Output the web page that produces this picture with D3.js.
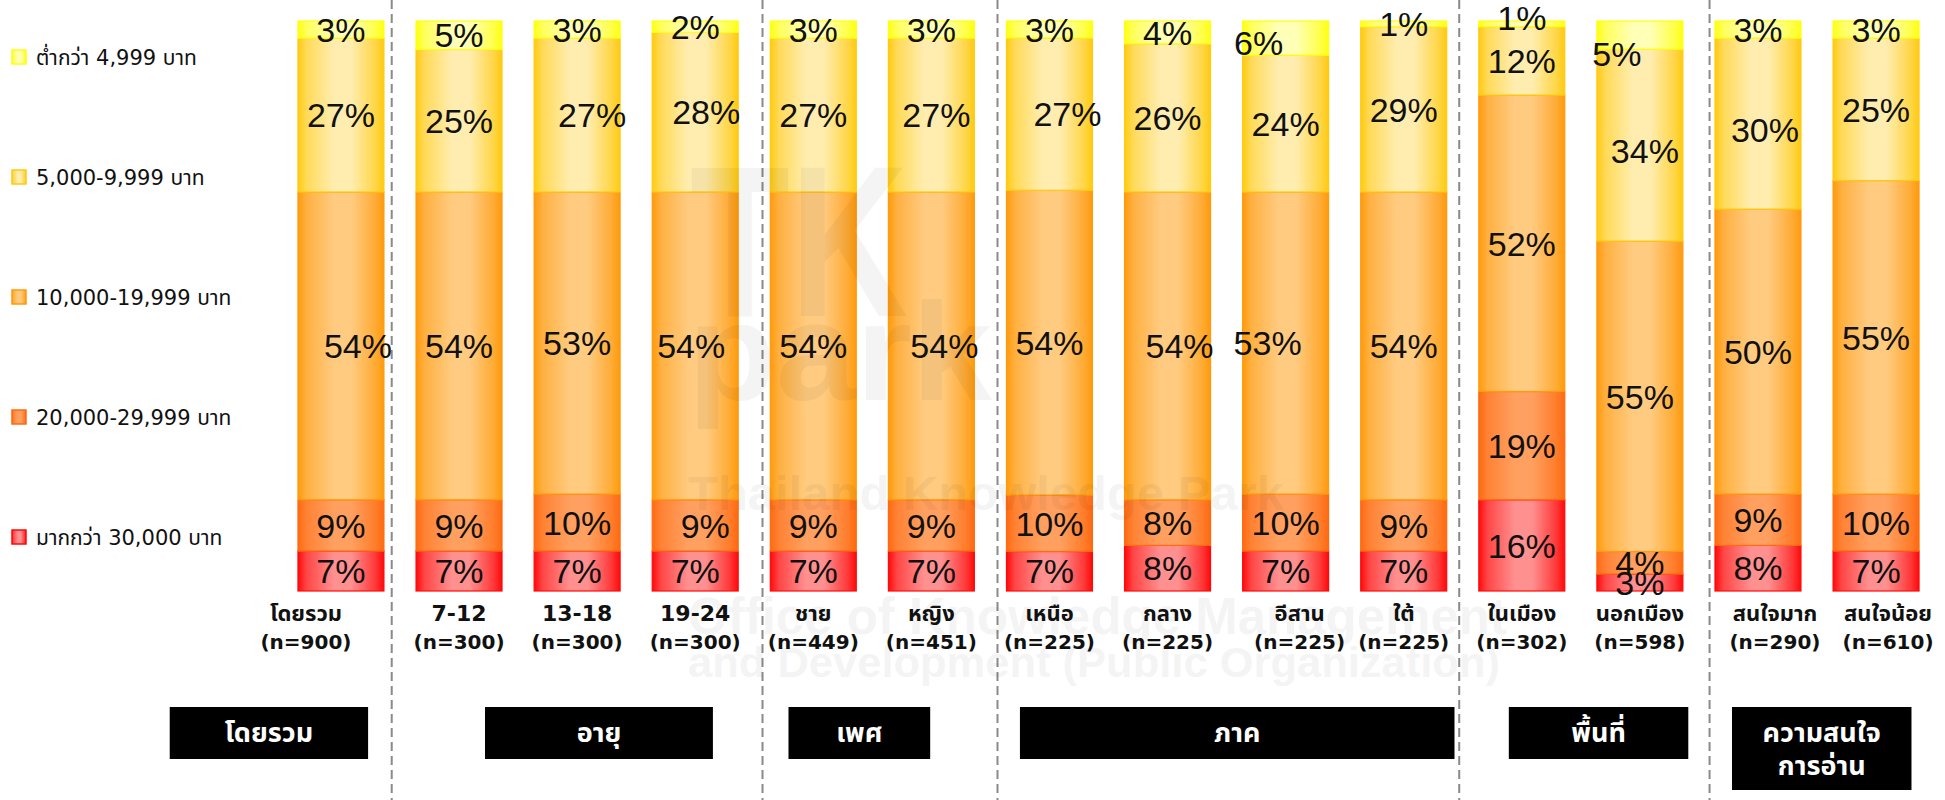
<!DOCTYPE html>
<html>
<head>
<meta charset="utf-8">
<script src="https://cdn.jsdelivr.net/npm/d3@7"></script>
<style>
  body { margin: 0; background: #fff; }
  svg { display: block; }
</style>
</head>
<body>
<svg id="chart" width="1945" height="800"></svg>
<script>
// bars, left to right
const categories = ["โดยรวม", "7-12", "13-18", "19-24", "ชาย", "หญิง", "เหนือ", "กลาง", "อีสาน", "ใต้", "ในเมือง", "นอกเมือง", "สนใจมาก", "สนใจน้อย"]
const sampleSizes = [900, 300, 300, 300, 449, 451, 225, 225, 225, 225, 302, 598, 290, 610]

// group headers under the bars
const groupLabels = [["โดยรวม"], ["อายุ"], ["เพศ"], ["ภาค"], ["พื้นที่"], ["ความสนใจ", "การอ่าน"]]

// income bands, bottom of the stack first
const seriesNames = ["มากกว่า 30,000 บาท", "20,000-29,999 บาท", "10,000-19,999 บาท", "5,000-9,999 บาท", "ต่ำกว่า 4,999 บาท"]
const over30000  = [7, 7, 7, 7, 7, 7, 7, 8, 7, 7, 16, 3, 8, 7]
const from20000  = [9, 9, 10, 9, 9, 9, 10, 8, 10, 9, 19, 4, 9, 10]
const from10000  = [54, 54, 53, 54, 54, 54, 54, 54, 53, 54, 52, 55, 50, 55]
const from5000   = [27, 25, 27, 28, 27, 27, 27, 26, 24, 29, 12, 34, 30, 25]
const under4999  = [3, 5, 3, 2, 3, 3, 3, 4, 6, 1, 1, 5, 3, 3]
const seriesValues = [over30000, from20000, from10000, from5000, under4999]

// ---- layout / style (not data) ----
// edge colour and light centre colour of each band's shading
const bandColours = [
	["#ff0a0a", "#ff9090"],
	["#ff6a10", "#ffa060"],
	["#ff9a0c", "#ffcb80"],
	["#ffca10", "#ffedb0"],
	["#ffff10", "#ffffb8"]
]
// header boxes and dashed separators, in bar-slot units
const headerSpan = [[-0.95, 0.73], [1.72, 3.65], [4.29, 5.49], [6.25, 9.93], [10.39, 11.91], [12.28, 13.8]]
const separatorAt = [0.93, 4.07, 6.06, 9.97, 12.09]
// hand nudges of a few labels, as in the original slide  [dx, dy]
const labelNudge = {
	"0-2": [17, 0], "2-3": [15, 0], "3-3": [11, 0], "3-2": [-4, 0], "3-1": [10, 0],
	"5-3": [5, 0], "5-2": [13, 0], "6-3": [18, 0], "7-2": [12, 0],
	"8-4": [-27, 5], "8-2": [-18, 0], "10-4": [0, -6],
	"11-4": [-23, 19], "11-3": [5, 6], "12-3": [7, 6]
}
const catNudge = { 0: -35, 8: 14, 12: 17, 13: 12 }

const thaiFont = "Tahoma, 'DejaVu Sans', 'Noto Sans Thai', 'Noto Sans', sans-serif"
const pctFont = "'Liberation Sans', Helvetica, Arial, sans-serif"

const svg = d3.select("#chart")

const x = d3.scaleBand()
	.domain(categories)
	.range([281.9, 1935.1])
	.paddingInner(0.272)
	.paddingOuter(0.136)
const slot = u => x.range()[0] + u * x.step()

const y = d3.scaleLinear().domain([0, 1]).range([591, 21])

const rows = categories.map((c, i) => {
	const r = { cat: c, idx: i }
	seriesNames.forEach((s, j) => r[s] = seriesValues[j][i])
	return r
})
const layers = d3.stack().keys(seriesNames).offset(d3.stackOffsetExpand)(rows)

// gradients
const defs = svg.append("defs")
bandColours.forEach(([edge, light], j) => {
	const g = defs.append("linearGradient")
		.attr("id", `band${j}`)
		.attr("x1", "0%").attr("x2", "100%")
	;[[0, edge], [0.1, d3.interpolateRgb(edge, light)(0.45)], [0.42, light], [0.62, light],
		[0.9, d3.interpolateRgb(edge, light)(0.35)], [1, edge]]
		.forEach(([o, c]) => g.append("stop").attr("offset", o).attr("stop-color", c))
})

// dashed separators
svg.append("g").selectAll("line")
	.data(separatorAt)
	.join("line")
	.attr("x1", d => slot(d)).attr("x2", d => slot(d))
	.attr("y1", 0).attr("y2", 800)
	.attr("stroke", "#8a8a8a")
	.attr("stroke-width", 2)
	.attr("stroke-dasharray", "9,5")

// stacked bars
const layerG = svg.append("g").selectAll("g")
	.data(layers)
	.join("g")
	.attr("fill", (d, j) => `url(#band${j})`)
	.attr("stroke", (d, j) => bandColours[j][0])
	.attr("stroke-width", 1.2)

layerG.selectAll("rect")
	.data(d => d)
	.join("rect")
	.attr("x", d => x(d.data.cat))
	.attr("width", x.bandwidth())
	.attr("y", d => y(d[1]))
	.attr("height", d => y(d[0]) - y(d[1]))

// faint logo watermark, showing through the bars as well
const wm = svg.append("g").attr("fill", "#000").attr("opacity", 0.04)
	.style("font-family", pctFont).style("font-weight", "bold")
wm.append("text").attr("x", 690).attr("y", 316).attr("font-size", 215)
	.attr("textLength", 218).attr("lengthAdjust", "spacingAndGlyphs").text("TK")
wm.append("text").attr("x", 688).attr("y", 400).attr("font-size", 140)
	.attr("textLength", 304).attr("lengthAdjust", "spacingAndGlyphs").text("park")
wm.append("text").attr("x", 688).attr("y", 510).attr("font-size", 48)
	.attr("textLength", 596).attr("lengthAdjust", "spacingAndGlyphs").text("Thailand Knowledge Park")
wm.append("text").attr("x", 688).attr("y", 634).attr("font-size", 52)
	.attr("textLength", 819).attr("lengthAdjust", "spacingAndGlyphs").text("Office of Knowledge Management")
wm.append("text").attr("x", 688).attr("y", 677).attr("font-size", 42)
	.attr("textLength", 812).attr("lengthAdjust", "spacingAndGlyphs").text("and Development (Public Organization)")

// percentage labels
const labelG = svg.append("g")
	.style("font-family", pctFont)
	.style("font-size", "34px")
	.attr("fill", "#111")
	.attr("text-anchor", "middle")
layers.forEach((layer, j) => {
	labelG.selectAll(`text.l${j}`)
		.data(layer)
		.join("text")
		.attr("class", `l${j}`)
		.attr("x", d => x(d.data.cat) + x.bandwidth() / 2 + (labelNudge[`${d.data.idx}-${j}`] || [0, 0])[0])
		.attr("y", d => (y(d[0]) + y(d[1])) / 2 + (labelNudge[`${d.data.idx}-${j}`] || [0, 0])[1])
		.attr("dy", "0.36em")
		.text(d => `${d.data[layer.key]}%`)
})

// category labels
const catG = svg.append("g")
	.style("font-family", thaiFont)
	.style("font-weight", "bold")
	.attr("fill", "#111")
	.attr("text-anchor", "middle")
catG.selectAll("text")
	.data(categories)
	.join("text")
	.attr("transform", (d, i) => `translate(${x(d) + x.bandwidth() / 2 + (catNudge[i] || 0)},0)`)
	.each(function(d, i) {
		const t = d3.select(this)
		t.append("tspan").attr("x", 0).attr("y", 621).style("font-size", "22px").text(d)
		t.append("tspan").attr("x", 0).attr("y", 649).style("font-size", "20px").text(`(n=${sampleSizes[i]})`)
	})

// legend
const legendY = d3.scalePoint()
	.domain(seriesNames.slice().reverse())
	.range([57, 537])
const legend = svg.append("g").selectAll("g")
	.data(seriesNames.slice().reverse())
	.join("g")
	.attr("transform", d => `translate(12,${legendY(d)})`)
legend.append("rect")
	.attr("x", 0).attr("y", -7)
	.attr("width", 14).attr("height", 14)
	.attr("fill", d => `url(#band${seriesNames.indexOf(d)})`)
	.attr("stroke", d => bandColours[seriesNames.indexOf(d)][0])
	.attr("stroke-width", 1.5)
legend.append("text")
	.attr("x", 24).attr("dy", "0.36em")
	.style("font-family", thaiFont)
	.style("font-size", "21px")
	.attr("fill", "#111")
	.text(d => d)

// group header boxes
const hdr = svg.append("g").selectAll("g")
	.data(groupLabels)
	.join("g")
hdr.append("rect")
	.attr("x", (d, i) => slot(headerSpan[i][0]))
	.attr("width", (d, i) => slot(headerSpan[i][1]) - slot(headerSpan[i][0]))
	.attr("y", 707)
	.attr("height", d => d.length > 1 ? 83 : 52)
	.attr("fill", "#000")
hdr.append("text")
	.attr("text-anchor", "middle")
	.style("font-family", thaiFont)
	.style("font-weight", "bold")
	.style("font-size", "27px")
	.attr("fill", "#fff")
	.each(function(d, i) {
		const cx = (slot(headerSpan[i][0]) + slot(headerSpan[i][1])) / 2
		d.forEach((line, k) => {
			d3.select(this).append("tspan")
				.attr("x", cx)
				.attr("y", 742 + k * 33)
				.text(line)
		})
	})
</script>
</body>
</html>
